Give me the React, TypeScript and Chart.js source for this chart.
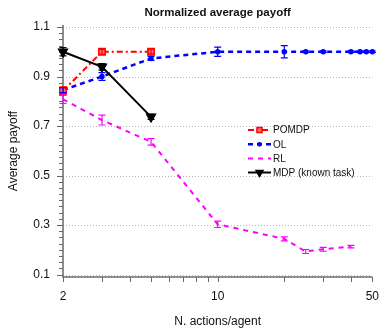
import { useEffect, useRef } from 'react';
import { Chart, registerables } from 'chart.js';

Chart.register(...registerables);

const FONT = '"Liberation Sans", Arial, Helvetica, sans-serif';

// ---- data ----
const seriesLabels = ['POMDP', 'OL', 'RL', 'MDP (known task)'];

const xPOMDP = [2, 3, 5];
const yPOMDP = [0.842, 1.0, 1.0];
const ePOMDP = [0.016, 0.01, 0.008];

const xOL = [2, 3, 5, 10, 20, 25, 30, 40, 44, 47, 50];
const yOL = [0.845, 0.9, 0.973, 1.0, 1.0, 1.0, 1.0, 1.0, 1.0, 1.0, 1.0];
const eOL = [0.01, 0.016, 0.008, 0.019, 0.025, 0.003, 0.003, 0.003, 0.003, 0.003, 0.003];

const xRL = [2, 3, 5, 10, 20, 25, 30, 40];
const yRL = [0.808, 0.724, 0.636, 0.303, 0.244, 0.193, 0.202, 0.213];
const eRL = [0.017, 0.02, 0.013, 0.013, 0.008, 0.008, 0.008, 0.005];

const xMDP = [2, 3, 5];
const yMDP = [1.0, 0.939, 0.737];
const eMDP = [0.017, 0.013, 0.01];

const yTickLabels = [0.1, 0.3, 0.5, 0.7, 0.9, 1.1];
const xTickLabels = [2, 10, 50];
const xMinorTicks = [2, 3, 4, 5, 6, 7, 8, 9, 10, 20, 30, 40, 50];

const titleText = 'Normalized average payoff';
const xTitle = 'N. actions/agent';
const yTitle = 'Average payoff';

// ---- styles ----
const styles = [
  { color: '#ff0000', dash: [6, 3, 2, 3], width: 2, marker: 'rect', radius: 4.5, bg: '#ff7070', order: 1 },
  { color: '#0000ff', dash: [5, 4], width: 2.5, marker: 'circle', radius: 2, bg: '#0000ff', order: 2 },
  { color: '#ff00ff', dash: [5, 5], width: 2, marker: 'circle', radius: 0, bg: '#ff00ff', order: 3 },
  { color: '#000000', dash: [], width: 2, marker: 'triangle', radius: 5, bg: '#000000', order: 0 },
];

const xs = [xPOMDP, xOL, xRL, xMDP];
const ys = [yPOMDP, yOL, yRL, yMDP];
const es = [ePOMDP, eOL, eRL, eMDP];

function drawMarker(ctx: CanvasRenderingContext2D, kind: string, x: number, y: number, r: number, color: string, bg: string) {
  if (r <= 0) return;
  ctx.save();
  ctx.setLineDash([]);
  ctx.fillStyle = bg;
  ctx.strokeStyle = color;
  ctx.lineWidth = 1.5;
  ctx.beginPath();
  if (kind === 'rect') {
    const s = r * Math.SQRT1_2;
    ctx.rect(x - s, y - s, 2 * s, 2 * s);
  } else if (kind === 'circle') {
    ctx.arc(x, y, r, 0, Math.PI * 2);
  } else if (kind === 'triangle') {
    const w = r * Math.sqrt(3) / 2;
    ctx.moveTo(x - w, y - r / 2);
    ctx.lineTo(x + w, y - r / 2);
    ctx.lineTo(x, y + r);
    ctx.closePath();
  }
  ctx.fill();
  ctx.stroke();
  ctx.restore();
}

const decor = {
  id: 'decor',
  beforeDatasetsDraw(chart: any) {
    const { ctx, chartArea: ca } = chart;
    const sx = chart.scales.x;
    const sy = chart.scales.y;
    ctx.save();
    ctx.strokeStyle = '#b5b5b5';
    ctx.lineWidth = 1;
    ctx.setLineDash([1, 2]);
    for (const v of yTickLabels) {
      const y = Math.round(sy.getPixelForValue(v)) + 0.5;
      ctx.beginPath();
      ctx.moveTo(ca.left, y);
      ctx.lineTo(ca.right, y);
      ctx.stroke();
    }
    ctx.setLineDash([]);
    ctx.strokeStyle = '#6a6a6a';
    ctx.lineWidth = 1.5;
    ctx.beginPath();
    ctx.moveTo(ca.left, ca.top - 2);
    ctx.lineTo(ca.left, ca.bottom);
    ctx.lineTo(ca.right, ca.bottom);
    ctx.stroke();
    ctx.lineWidth = 1;
    for (let i = 0; i <= 40; i++) {
      const v = 0.1 + i * 0.025;
      const y = Math.round(sy.getPixelForValue(v)) + 0.5;
      const major = i % 8 === 0;
      ctx.beginPath();
      ctx.moveTo(ca.left - (major ? 6 : 4), y);
      ctx.lineTo(ca.left, y);
      ctx.stroke();
    }
    for (const v of xMinorTicks) {
      const x = Math.round(sx.getPixelForValue(v)) + 0.5;
      ctx.beginPath();
      ctx.moveTo(x, ca.bottom);
      ctx.lineTo(x, ca.bottom + 5);
      ctx.stroke();
    }
    ctx.restore();
  },
  afterDatasetsDraw(chart: any) {
    const { ctx } = chart;
    const sx = chart.scales.x;
    const sy = chart.scales.y;
    ctx.save();
    ctx.setLineDash([]);
    ctx.lineWidth = 1.2;
    for (let s = 0; s < xs.length; s++) {
      ctx.strokeStyle = styles[s].color;
      for (let i = 0; i < xs[s].length; i++) {
        const e = es[s][i];
        if (!e) continue;
        const x = sx.getPixelForValue(xs[s][i]);
        const y1 = sy.getPixelForValue(ys[s][i] - e);
        const y2 = sy.getPixelForValue(ys[s][i] + e);
        ctx.beginPath();
        ctx.moveTo(x, y1);
        ctx.lineTo(x, y2);
        ctx.moveTo(x - 3.5, y1);
        ctx.lineTo(x + 3.5, y1);
        ctx.moveTo(x - 3.5, y2);
        ctx.lineTo(x + 3.5, y2);
        ctx.stroke();
      }
    }
    ctx.restore();
  },
  afterDraw(chart: any) {
    const { ctx, chartArea: ca } = chart;
    ctx.save();
    ctx.fillStyle = '#111';
    ctx.font = `bold 11.5px ${FONT}`;
    ctx.textAlign = 'center';
    ctx.textBaseline = 'middle';
    ctx.fillText(titleText, (ca.left + ca.right) / 2, 12.5);
    ctx.font = `12px ${FONT}`;
    ctx.fillText(xTitle, (ca.left + ca.right) / 2, 321.5);
    ctx.save();
    ctx.translate(14, 151);
    ctx.rotate(-Math.PI / 2);
    ctx.fillText(yTitle, 0, 0);
    ctx.restore();
    const rowY = [130, 144.3, 158.5, 172.5];
    ctx.font = `10px ${FONT}`;
    ctx.textAlign = 'left';
    for (let s = 0; s < styles.length; s++) {
      const st = styles[s];
      const y = rowY[s];
      ctx.strokeStyle = st.color;
      ctx.lineWidth = st.width;
      ctx.setLineDash(st.dash);
      ctx.beginPath();
      ctx.moveTo(248, y);
      ctx.lineTo(271, y);
      ctx.stroke();
      ctx.setLineDash([]);
      drawMarker(ctx, st.marker, 259.5, y, st.radius * 0.8, st.color, st.bg);
      ctx.fillStyle = '#111';
      ctx.fillText(seriesLabels[s], 273, y + 0.5);
    }
    ctx.restore();
  },
};

export default function App() {
  const ref = useRef<HTMLCanvasElement>(null);
  useEffect(() => {
    const canvas = ref.current!;
    const datasets = seriesLabels.map((label, s) => ({
      label,
      data: xs[s].map((x, i) => ({ x, y: ys[s][i] })),
      borderColor: styles[s].color,
      backgroundColor: styles[s].bg,
      borderWidth: styles[s].width,
      borderDash: styles[s].dash,
      pointStyle: styles[s].marker as any,
      pointRotation: styles[s].marker === 'triangle' ? 180 : 0,
      pointRadius: styles[s].radius,
      pointBorderWidth: 1.5,
      pointBorderColor: styles[s].color,
      pointBackgroundColor: styles[s].bg,
      tension: 0,
      fill: false,
      clip: false as any,
      order: styles[s].order,
    }));
    const chart = new Chart(canvas, {
      type: 'line',
      data: { datasets },
      options: {
        responsive: false,
        animation: false,
        devicePixelRatio: 1,
        layout: { autoPadding: false, padding: { top: 27, right: 8, left: 0, bottom: 0 } },
        plugins: { legend: { display: false }, title: { display: false }, tooltip: { enabled: false } },
        scales: {
          x: {
            type: 'logarithmic',
            min: 2,
            max: 50,
            grid: { display: false, drawTicks: false },
            border: { display: false },
            afterBuildTicks: (scale: any) => {
              scale.ticks = xTickLabels.map((v) => ({ value: v }));
            },
            afterFit: (scale: any) => {
              scale.height = 52;
            },
            ticks: {
              autoSkip: false,
              maxRotation: 0,
              padding: 12,
              color: '#111',
              font: { family: FONT, size: 12 },
              callback: (v: any) => String(v),
            },
          },
          y: {
            type: 'linear',
            min: 0.09,
            max: 1.1,
            grid: { display: false, drawTicks: false },
            border: { display: false },
            afterBuildTicks: (scale: any) => {
              scale.ticks = yTickLabels.map((v) => ({ value: v }));
            },
            afterFit: (scale: any) => {
              scale.width = 63;
            },
            ticks: {
              autoSkip: false,
              padding: 13,
              color: '#111',
              font: { family: FONT, size: 12 },
              callback: (v: any) => Number(v).toFixed(1),
            },
          },
        },
      },
      plugins: [decor],
    } as any);
    return () => chart.destroy();
  }, []);
  return (
    <div style={{ position: 'fixed', left: 0, top: 0, width: 391, height: 329, background: '#fff' }}>
      <canvas ref={ref} width={391} height={329} style={{ width: 391, height: 329, display: 'block' }} />
    </div>
  );
}
